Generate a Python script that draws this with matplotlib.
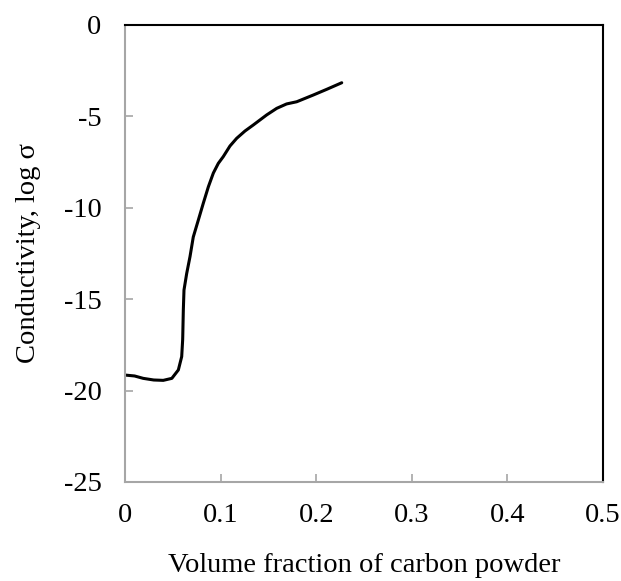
import matplotlib

matplotlib.use("Agg")
import matplotlib.pyplot as plt

# volume fraction of carbon powder vs log conductivity
vol_frac = [0.0, 0.010, 0.019, 0.030, 0.040, 0.049, 0.0558, 0.0593, 0.0603, 0.0604,
            0.0610, 0.0617, 0.0645, 0.0680, 0.0714, 0.0767, 0.0819, 0.0872,
            0.0924, 0.0976, 0.1028, 0.1098, 0.1168, 0.1255, 0.1342, 0.1482,
            0.1587, 0.1690, 0.1796, 0.1970, 0.2110, 0.2267]
log_sigma = [-19.15, -19.2, -19.33, -19.42, -19.44, -19.33, -18.87, -18.14, -17.23, -17.05,
             -15.6, -14.5, -13.6, -12.67, -11.6, -10.67, -9.75, -8.85,
             -8.1, -7.57, -7.2, -6.62, -6.2, -5.8, -5.47, -4.92,
             -4.56, -4.32, -4.2, -3.83, -3.52, -3.16]

x_ticks = [0, 0.1, 0.2, 0.3, 0.4, 0.5]
x_labels = ["0", "0.1", "0.2", "0.3", "0.4", "0.5"]
y_ticks = [0, -5, -10, -15, -20, -25]
y_labels = ["0", "-5", "-10", "-15", "-20", "-25"]

plt.rcParams["font.family"] = ["Liberation Serif", "DejaVu Serif"]
grey = "#a6a6a6"

fig = plt.figure(figsize=(6.21, 5.81), dpi=100)
ax = fig.add_axes([0.2013, 0.1704, 0.7697, 0.7866])
ax.plot(vol_frac, log_sigma, color="black", linewidth=2.2,
        solid_capstyle="round", solid_joinstyle="round")

ax.set_xlim(0, 0.5)
ax.set_ylim(-25, 0)
ax.set_xticks(x_ticks)
ax.set_xticklabels(x_labels)
ax.set_yticks(y_ticks)
ax.set_yticklabels(y_labels)
ax.tick_params(direction="in", length=6, width=1.2, color=grey, labelsize=20.5)
ax.tick_params(axis="x", pad=15)
ax.tick_params(axis="y", pad=17)

ax.spines["left"].set_color(grey)
ax.spines["bottom"].set_color(grey)
ax.spines["top"].set_color("black")
ax.spines["right"].set_color("black")
for s in ax.spines.values():
    s.set_linewidth(1.5)

ax.set_xlabel("Volume fraction of carbon powder", fontsize=20.5, labelpad=18)
ax.set_ylabel("Conductivity, log σ", fontsize=20.5, labelpad=16)

fig.savefig("out.png", dpi=100)
